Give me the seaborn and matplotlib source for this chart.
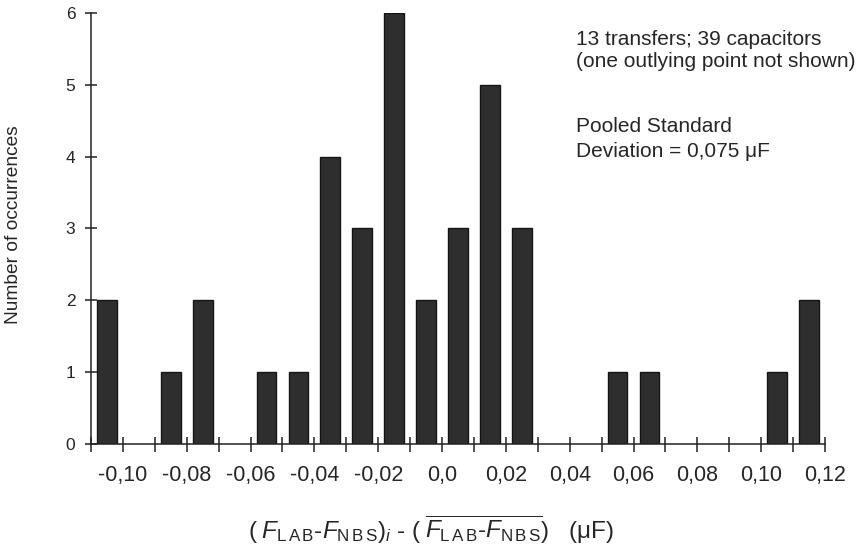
import numpy as np
import pandas as pd
import matplotlib
matplotlib.use("Agg")
import matplotlib.pyplot as plt
import seaborn as sns

# ---- data ----
bin_centers = [-0.105, -0.085, -0.075, -0.055, -0.045, -0.035, -0.025, -0.015,
               -0.005, 0.005, 0.015, 0.025, 0.055, 0.065, 0.105, 0.115]
counts = [2, 1, 2, 1, 1, 4, 3, 6, 2, 3, 5, 3, 1, 1, 1, 2]
major_ticks = [-0.10, -0.08, -0.06, -0.04, -0.02, 0.0, 0.02, 0.04, 0.06, 0.08, 0.10, 0.12]
major_labels = ["-0,10", "-0,08", "-0,06", "-0,04", "-0,02", "0,0",
                "0,02", "0,04", "0,06", "0,08", "0,10", "0,12"]
minor_ticks = [-0.11, -0.09, -0.07, -0.05, -0.03, -0.01, 0.01, 0.03, 0.05, 0.07, 0.09, 0.11]
y_ticks = [0, 1, 2, 3, 4, 5, 6]

df = pd.DataFrame({"x": bin_centers, "count": counts})

sns.set_style("ticks")
plt.rcParams["font.family"] = ["Liberation Sans", "DejaVu Sans"]
plt.rcParams["mathtext.fontset"] = "custom"
plt.rcParams["mathtext.rm"] = "Liberation Sans"
plt.rcParams["mathtext.it"] = "Liberation Sans:italic"
plt.rcParams["mathtext.bf"] = "Liberation Sans:bold"

fig = plt.figure(figsize=(8.64, 5.52), dpi=100)
ax = fig.add_axes([0.1053, 0.1957, 0.8496, 0.7808])

sns.barplot(data=df, x="x", y="count", native_scale=True, orient="x",
            width=0.62, color="#2e2e2e", saturation=1, edgecolor="#151515",
            linewidth=1.0, ax=ax, errorbar=None)

ax.set_xlim(-0.11, 0.12)
ax.set_ylim(0, 6)
ax.set_xticks(major_ticks)
ax.set_xticklabels(major_labels, fontsize=15.5)
ax.set_xticks(minor_ticks, minor=True)
ax.set_yticks(y_ticks)
ax.set_yticklabels([str(v) for v in y_ticks], fontsize=12.5)

for side in ["top", "right"]:
    ax.spines[side].set_visible(False)
for side in ["left", "bottom"]:
    ax.spines[side].set_linewidth(1.1)
    ax.spines[side].set_color("#222222")

ax.tick_params(axis="x", which="both", direction="inout", length=10.8,
               width=1.1, color="#222222", pad=10)
ax.tick_params(axis="y", which="major", direction="inout", length=8.6,
               width=1.1, color="#222222", pad=7)

sub_lab = r"\mathrm{L\,A\,B}"
sub_nbs = r"\mathrm{N\,B\,S}"
xlabel = (r"$(\;F_{%s}\text{-}F_{%s})_i$ - "
          r"$(\;\overline{F_{%s}\text{-}F_{%s}})$   (μF)") % (sub_lab, sub_nbs, sub_lab, sub_nbs)
ax.set_xlabel(xlabel, fontsize=17.5, va="center")
ax.xaxis.set_label_coords(0.463, -0.1995)
ax.set_ylabel("Number of occurrences", fontsize=13.8, va="center")
ax.yaxis.set_label_coords(-0.1056, 0.508)

tx = 0.661
ax.text(tx, 0.9258, "13 transfers; 39 capacitors", transform=ax.transAxes,
        fontsize=15, va="baseline", ha="left")
ax.text(tx, 0.8747, "(one outlying point not shown)", transform=ax.transAxes,
        fontsize=15, va="baseline", ha="left")
ax.text(tx, 0.7239, "Pooled Standard", transform=ax.transAxes,
        fontsize=15, va="baseline", ha="left")
ax.text(tx, 0.6659, "Deviation = 0,075 \u03bcF", transform=ax.transAxes,
        fontsize=15, va="baseline", ha="left")

fig.savefig("out.png", dpi=100)
